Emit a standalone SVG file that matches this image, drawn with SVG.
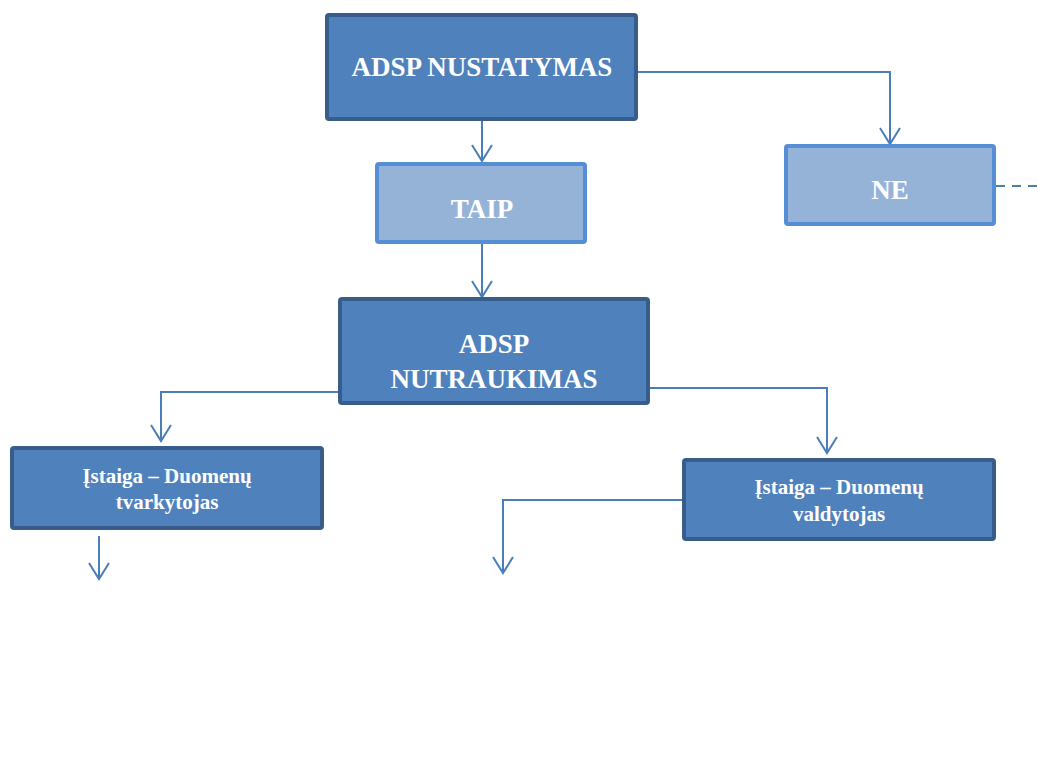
<svg xmlns="http://www.w3.org/2000/svg" width="1038" height="769" viewBox="0 0 1038 769">
<defs>
<marker id="arr" markerWidth="20" markerHeight="22" refX="18" refY="11" orient="auto" markerUnits="userSpaceOnUse" viewBox="0 0 20 22">
<path d="M2,1 L18,11 L2,21" fill="none" stroke="#4a7ebb" stroke-width="2"/>
</marker>
</defs>
<style>
.dark{fill:#4f81bd;stroke:#385d8a;stroke-width:4}
.light{fill:#95b3d7;stroke:#558ed5;stroke-width:4}
.t{font-family:"Liberation Serif","Times New Roman",serif;font-weight:bold;fill:#ffffff;text-anchor:middle}
.big{font-size:27px}
.small{font-size:21px}
.c{fill:none;stroke:#4a7ebb;stroke-width:2}
</style>
<rect width="1038" height="769" fill="#ffffff"/>
<g id="connectors">
<path class="c" d="M482,121 L482,161" marker-end="url(#arr)"/>
<path class="c" d="M638,72 L890,72 L890,144" marker-end="url(#arr)"/>
<path class="c" d="M482,243 L482,297" marker-end="url(#arr)"/>
<path class="c" d="M338,392 L161,392 L161,441" marker-end="url(#arr)"/>
<path class="c" d="M650,388 L827,388 L827,453" marker-end="url(#arr)"/>
<path class="c" d="M99,536 L99,579" marker-end="url(#arr)"/>
<path class="c" d="M683,500 L503,500 L503,573" marker-end="url(#arr)"/>
<path class="c" d="M996,186 L1038,186" stroke-dasharray="9,7" stroke-width="2.5"/>
</g>
<g id="n1">
<rect class="dark" x="327" y="15" width="309" height="104" rx="2"/>
<text class="t big" x="482" y="76">ADSP NUSTATYMAS</text>
</g>
<g id="n2">
<rect class="light" x="377" y="164" width="208" height="78" rx="2"/>
<text class="t big" x="482" y="218">TAIP</text>
</g>
<g id="n3">
<rect class="light" x="786" y="146" width="208" height="78" rx="2"/>
<text class="t big" x="890" y="199">NE</text>
</g>
<g id="n4">
<rect class="dark" x="340" y="299" width="308" height="104" rx="2"/>
<text class="t big" x="494" y="353">ADSP</text>
<text class="t big" x="494" y="388">NUTRAUKIMAS</text>
</g>
<g id="n5">
<rect class="dark" x="12" y="448" width="310" height="80" rx="2"/>
<text class="t small" x="167" y="483">Įstaiga – Duomenų</text>
<text class="t small" x="167" y="509">tvarkytojas</text>
</g>
<g id="n6">
<rect class="dark" x="684" y="460" width="310" height="79" rx="2"/>
<text class="t small" x="839" y="494">Įstaiga – Duomenų</text>
<text class="t small" x="839" y="521">valdytojas</text>
</g>
</svg>
